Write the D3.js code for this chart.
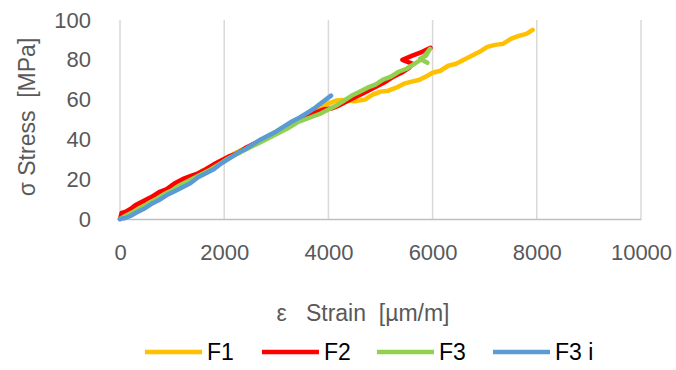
<!DOCTYPE html>
<html>
<head>
<meta charset="utf-8">
<script src="https://cdn.jsdelivr.net/npm/d3@7"></script>
<style>
  body { margin: 0; background: #fff; }
  text { font-family: "Liberation Sans", Arial, sans-serif; }
</style>
</head>
<body>
<svg id="drawing_region"></svg>
<script>
// series: strain [um/m] and stress [MPa]
const f1_strain = [0,150,300,450,600,800,1000,1200,1400,1600,1800,2000,2200,2400,2600,2800,3000,3200,3400,3600,3800,4000,4150,4300,4500,4700,4850,5000,5150,5300,5450,5600,5750,5900,6000,6150,6300,6450,6600,6750,6900,7050,7200,7350,7500,7650,7800,7920];
const f1_stress = [0,2.5,5,7.5,9,12,15,18,21,24.5,27,30,33,35.5,38,41,44,47,49.5,52.5,55.5,58,59.5,59.8,59.2,60,62.5,64,64.5,66,68,69,70,72,73.5,74.5,77,78,80,82,84,86.5,87.5,88,90.5,92,93,95];

const f2_strain = [0,30,100,200,300,450,600,750,900,1050,1200,1350,1500,1650,1800,1950,2100,2250,2400,2550,2700,2850,3000,3150,3300,3450,3600,3750,3900,4050,4200,4350,4500,4650,4800,4950,5100,5250,5400,5550,5620,5420,5600,5800,5960];
const f2_stress = [0,3,3.5,5,7,9,11,13.5,15,18,20,21.5,23,25,27.5,29.5,31.5,33,35.5,37.5,39.5,41.5,43.5,46,48,50,52,53.5,55,55.5,57,59,61,63,65,67,69,71.5,73.5,76,78,80,82,84,86];

const f3_strain = [0,100,250,400,550,700,850,1000,1150,1300,1450,1600,1750,1900,2050,2200,2350,2500,2650,2800,2950,3100,3250,3400,3550,3700,3850,4000,4150,4300,4450,4600,4750,4900,5050,5200,5350,5500,5650,5800,5950,5870,5760,5900];
const f3_stress = [0,1.5,3.5,5.5,8,10,12.5,14.5,17,19,21,23,25,27.5,30,32,34,36,38,40,42,44,46,48.5,50,51.5,53,55,57,59.5,62,64,66,67.5,70,71.5,74,75.5,78,80.5,85.5,82,80.5,78.5];

const f3i_strain = [0,100,200,300,450,600,750,900,1050,1200,1350,1500,1650,1800,1950,2100,2250,2400,2550,2700,2850,3000,3150,3300,3450,3600,3750,3850,3950,4050];
const f3i_stress = [0,0.5,1.5,3,5,7.5,9.5,12,14,16,18,21,23,25,28,30.5,33,35,37.5,40,42,44,46.5,49,51,53.5,56,58,60,62];

const series_names = ["F1", "F2", "F3", "F3 i"];
const series_colors = ["#FFC000", "#FF0000", "#92D050", "#5B9BD5"];
const x_ticks = [0, 2000, 4000, 6000, 8000, 10000];
const y_ticks = [0, 20, 40, 60, 80, 100];

const series = [
    { name: series_names[0], color: series_colors[0], strain: f1_strain, stress: f1_stress },
    { name: series_names[1], color: series_colors[1], strain: f2_strain, stress: f2_stress },
    { name: series_names[2], color: series_colors[2], strain: f3_strain, stress: f3_stress },
    { name: series_names[3], color: series_colors[3], strain: f3i_strain, stress: f3i_stress }
];

const config = {
    width: 676,
    height: 370,
    margin: {top: 20, right: 35, bottom: 151, left: 120}
};

const svg = d3.select('#drawing_region')
    .attr('width', config.width)
    .attr('height', config.height);

const inner_width = config.width - config.margin.left - config.margin.right;
const inner_height = config.height - config.margin.top - config.margin.bottom;

const chart = svg.append('g')
    .attr('transform', `translate(${config.margin.left}, ${config.margin.top})`);

const xscale = d3.scaleLinear().domain([0, 10000]).range([0, inner_width]);
const yscale = d3.scaleLinear().domain([0, 100]).range([inner_height, 0]);

// vertical gridlines
chart.append('g')
    .selectAll('line')
    .data(x_ticks)
    .join('line')
    .attr('x1', d => xscale(d))
    .attr('x2', d => xscale(d))
    .attr('y1', 0)
    .attr('y2', inner_height)
    .attr('stroke', '#d9d9d9')
    .attr('stroke-width', 1.5);

// x axis
const xaxis = d3.axisBottom(xscale)
    .tickValues(x_ticks)
    .tickSize(0)
    .tickPadding(25)
    .tickFormat(d3.format('d'));

const xaxis_group = chart.append('g')
    .attr('transform', `translate(0, ${inner_height})`)
    .call(xaxis);
xaxis_group.select('.domain').attr('stroke', '#bfbfbf').attr('stroke-width', 1.5);
xaxis_group.selectAll('text')
    .attr('font-size', 22)
    .attr('fill', '#595959');

// y axis
const yaxis = d3.axisLeft(yscale)
    .tickValues(y_ticks)
    .tickSize(0)
    .tickPadding(29);

const yaxis_group = chart.append('g').call(yaxis);
yaxis_group.select('.domain').remove();
yaxis_group.selectAll('text')
    .attr('font-size', 22)
    .attr('fill', '#595959');

// lines
const line = d3.line()
    .x(d => xscale(d[0]))
    .y(d => yscale(d[1]));

chart.append('g')
    .selectAll('path')
    .data(series)
    .join('path')
    .attr('d', s => line(s.strain.map((v, i) => [v, s.stress[i]])))
    .attr('fill', 'none')
    .attr('stroke', s => s.color)
    .attr('stroke-width', 4.5)
    .attr('stroke-linejoin', 'round')
    .attr('stroke-linecap', 'round');

// axis titles
svg.append('text')
    .attr('x', 363)
    .attr('y', 321)
    .attr('text-anchor', 'middle')
    .attr('font-size', 23)
    .attr('fill', '#595959')
    .attr('xml:space', 'preserve')
    .text('ε   Strain  [µm/m]');

svg.append('text')
    .attr('transform', 'translate(35, 117) rotate(-90)')
    .attr('text-anchor', 'middle')
    .attr('font-size', 23)
    .attr('fill', '#595959')
    .attr('xml:space', 'preserve')
    .text('σ Stress  [MPa]');

// legend
const legend_x = [145, 262, 377, 493];
const legend = svg.append('g')
    .selectAll('g')
    .data(series)
    .join('g')
    .attr('transform', (d, i) => `translate(${legend_x[i]}, 352)`);

legend.append('line')
    .attr('x1', 0)
    .attr('x2', 57)
    .attr('y1', 0)
    .attr('y2', 0)
    .attr('stroke', d => d.color)
    .attr('stroke-width', 4.5);

legend.append('text')
    .attr('x', 62)
    .attr('y', 8)
    .attr('font-size', 23)
    .attr('fill', '#000')
    .text(d => d.name);
</script>
</body>
</html>
